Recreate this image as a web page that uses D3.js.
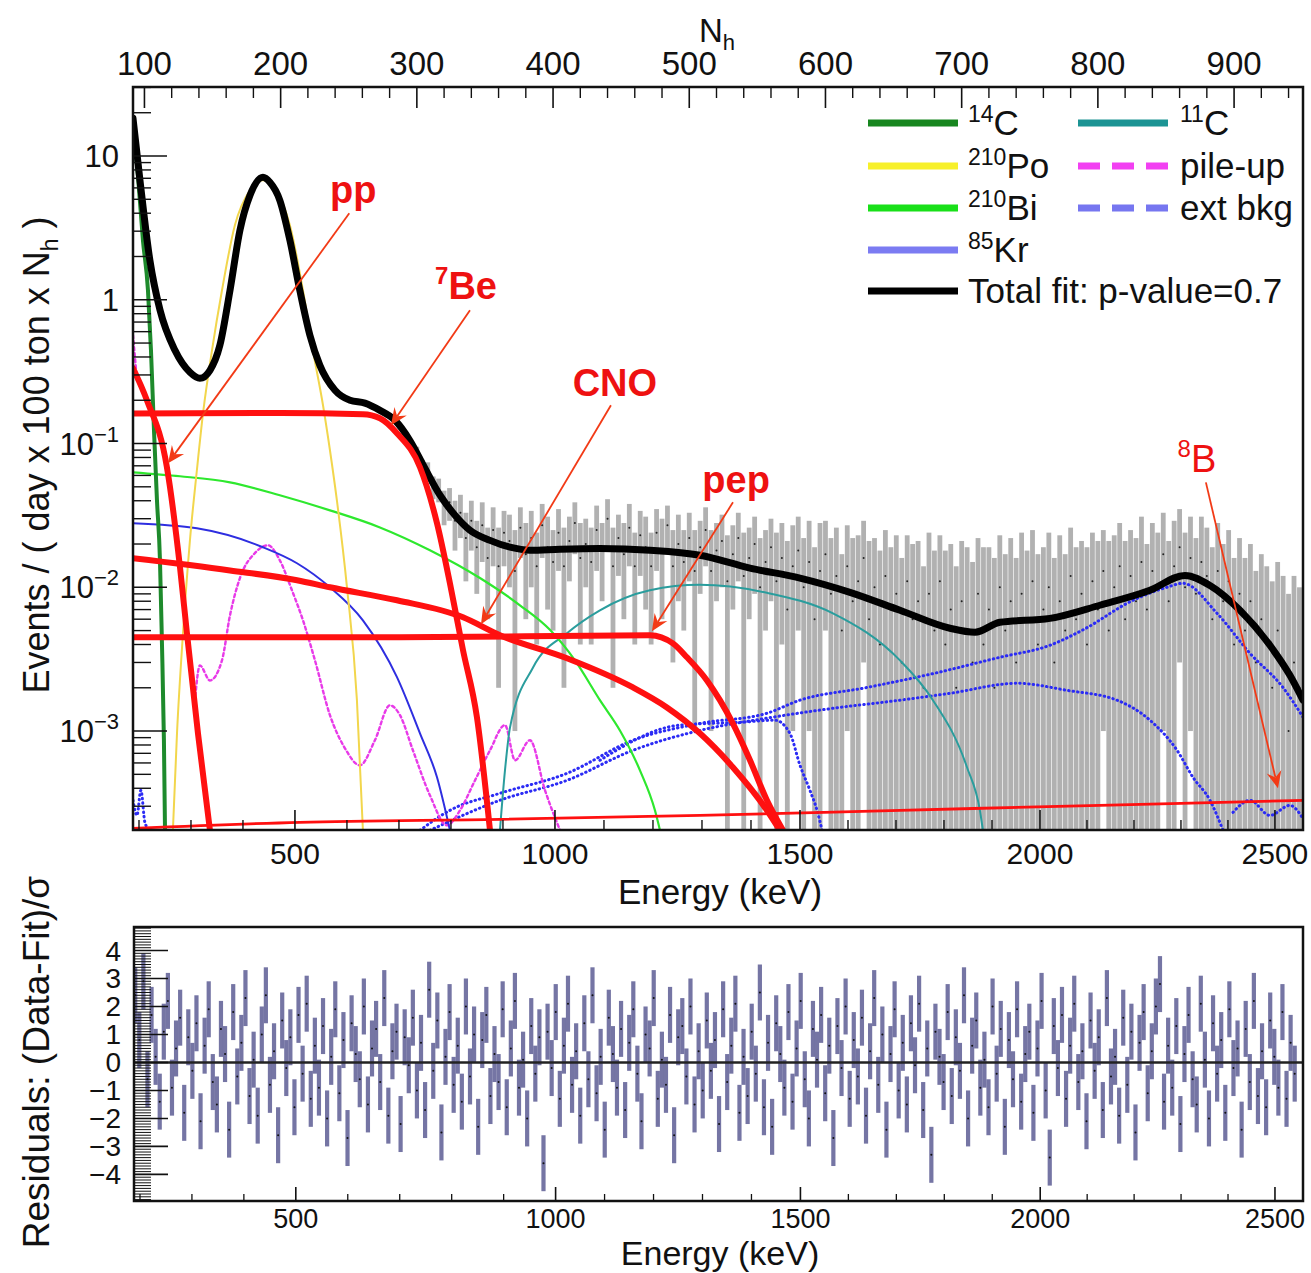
<!DOCTYPE html>
<html>
<head>
<meta charset="utf-8">
<script src="https://cdn.jsdelivr.net/npm/d3@7"></script>
<style>
  body { margin: 0; background: #fff; }
  text { font-family: "Liberation Sans", Arial, Helvetica, sans-serif; fill: #111; }
</style>
</head>
<body>
<svg id="chart" width="1311" height="1273"></svg>
<script>
// ---------------- axis definitions ----------------
const nhDomain = [91.6, 950.6];
const valueDomain = [2.05e-4, 30.2];
const residDomain = [-4.95, 4.84];
const nhMajorTicks = [100, 200, 300, 400, 500, 600, 700, 800, 900];
const energyMajorTicks = [500, 1000, 1500, 2000, 2500];
const energyCalKeV = [200, 500, 1000, 1500, 2000, 2500];
const energyCalNh = [96.0, 210.5, 401.4, 581.3, 757.5, 930.0];
const residTickLabels = [-4, -3, -2, -1, 0, 1, 2, 3, 4];
const decadeTicks = [1e-3, 1e-2, 1e-1, 1, 10];

// ---------------- fitted components: [Nh, events] ----------------
const totalFit = [[91.6,18.3],[96.7,6.8],[104.0,1.88],[111.4,0.85],[122.4,0.445],[133.4,0.313],[140.7,0.284],[148.1,0.323],[155.4,0.483],[162.8,1.16],[170.1,3.04],[177.5,5.33],[187.0,7.11],[192.1,6.57],[199.4,4.92],[206.8,2.59],[214.1,1.16],[221.5,0.566],[228.8,0.350],[239.9,0.235],[250.9,0.200],[261.9,0.191],[272.9,0.170],[283.9,0.145],[294.9,0.105],[305.9,0.0673],[317.0,0.0437],[328.0,0.0317],[339.0,0.0249],[353.7,0.0212],[368.4,0.0190],[383.0,0.0181],[405.1,0.0184],[434.4,0.0186],[471.1,0.0181],[507.8,0.0167],[544.6,0.0136],[581.3,0.0116],[618.0,0.00923],[654.7,0.00692],[691.4,0.00519],[709.8,0.00487],[728.1,0.00571],[764.8,0.00608],[801.5,0.0075],[838.2,0.00953],[863.9,0.0121],[882.3,0.0103],[904.3,0.00692],[926.3,0.00395],[941.0,0.00244],[950.6,0.00164]];
const ppNu = [[91.6,0.334],[101.8,0.200],[116.5,0.0684],[126.1,0.01378],[131.2,0.00479],[139.3,0.000964],[148.1,0.000204]];
const be7Nu = [[91.6,0.162],[200,0.163],[260.4,0.160],[272.9,0.150],[285.4,0.118],[302.3,0.0684],[314.8,0.0279],[324.3,0.01066],[333.9,0.00365],[344.1,0.00125],[353.7,0.000204]];
const cnoNu = [[91.6,0.0159],[162.8,0.0131],[212.0,0.0112],[236.2,0.0100],[285.4,0.00812],[333.9,0.00618],[361.0,0.00464],[410.2,0.00321],[458.7,0.00201],[483.6,0.00146],[507.8,0.000964],[532.0,0.00056],[557.0,0.000281],[566.5,0.000204]];
const pepNu = [[91.6,0.00449],[287.6,0.00449],[471.1,0.00464],[488.0,0.00407],[498.3,0.00326],[513.0,0.00225],[522.5,0.00164],[532.0,0.00113],[544.6,0.000626],[557.0,0.00033],[568.8,0.000204]];
const b8Nu = [[91.6,0.00021],[214.1,0.000232],[361.0,0.000243],[507.8,0.000259],[654.7,0.000281],[801.5,0.000304],[950.6,0.00033]];
const c14 = [[91.6,16.4],[95.2,7.35],[98.9,2.59],[102.6,1.16],[104.8,0.445],[107.0,0.124],[109.2,0.0402],[111.4,0.0154],[112.8,0.00428],[114.3,0.000863],[115.1,0.000204]];
const po210 = [[120.9,0.000204],[123.9,0.000964],[128.3,0.00479],[133.4,0.0212],[138.5,0.0652],[143.0,0.162],[149.6,0.445],[156.9,1.16],[166.4,3.30],[177.5,5.78],[187.0,6.78],[196.5,5.78],[206.8,3.30],[216.4,1.16],[223.7,0.445],[231.1,0.1846],[236.2,0.0898],[241.3,0.0402],[248.7,0.00999],[256.0,0.00164],[260.4,0.000204]];
const bi210 = [[91.6,0.0631],[126.1,0.0592],[162.8,0.0537],[199.4,0.0437],[236.2,0.0343],[272.9,0.0261],[309.6,0.0181],[346.3,0.0116],[375.7,0.0075],[397.7,0.00506],[416.1,0.0031],[434.4,0.00164],[449.1,0.00101],[463.8,0.000533],[474.8,0.000281],[478.5,0.000204]];
const kr85 = [[91.6,0.0279],[138.5,0.0257],[187.0,0.0190],[212.0,0.0147],[236.2,0.0100],[260.4,0.00589],[285.4,0.00237],[302.3,0.000964],[314.8,0.000477],[324.3,0.000204]];
const c11 = [[361.0,0.000204],[364.7,0.000533],[368.4,0.00106],[385.3,0.00277],[410.2,0.00479],[434.4,0.00692],[471.1,0.00953],[507.8,0.0104],[557.0,0.00916],[605.5,0.00659],[654.7,0.0031],[678.9,0.00164],[703.9,0.00056],[713.4,0.00028],[715.6,0.000204]];
const pileUpHead = [[91.6,0.566],[93.0,0.40],[94.5,0.275]];
const pileUp = [[137.0,0.0016],[140.7,0.00286],[148.1,0.00225],[156.9,0.0031],[162.8,0.00638],[170.1,0.0116],[181.1,0.0173],[190.7,0.0196],[199.4,0.0154],[208.3,0.00953],[216.4,0.00589],[225.2,0.0031],[236.2,0.00129],[247.2,0.000759],[258.2,0.000578],[269.2,0.000863],[280.2,0.00151],[287.6,0.00129],[297.1,0.000735],[309.6,0.000357],[322.1,0.000221],[331.7,0.000281],[342.7,0.000454],[353.7,0.000735],[364.7,0.0011],[372.1,0.000626],[383.0,0.000863],[394.1,0.000387],[405.1,0.000204]];
const extBkgA = [[302.3,0.000204],[324.3,0.000281],[361.0,0.000369],[410.2,0.000508],[458.7,0.000863],[507.8,0.00113],[557.0,0.00133],[581.3,0.00164],[630.5,0.00201],[679.0,0.00251],[728.1,0.00326],[764.8,0.00395],[789.1,0.00506],[825.8,0.00812],[850.7,0.0100],[862.5,0.01066],[887.5,0.00659],[911.7,0.00347],[935.9,0.00201],[950.6,0.00125]];
const extBkgB = [[309.6,0.000204],[361.0,0.00033],[410.2,0.000454],[458.7,0.000735],[507.8,0.00101],[557.0,0.00123],[605.5,0.00144],[654.7,0.00164],[691.4,0.00183],[740.6,0.00215],[777.3,0.00192],[814.0,0.00164],[838.2,0.00119],[858.1,0.000735],[869.8,0.000477],[882.3,0.00033],[891.9,0.000204]];
const extBkgC = [[434.4,0.000626],[493.1,0.0011],[537.2,0.00115],[562.9,0.00119],[573.9,0.000964],[581.3,0.000578],[588.6,0.000387],[593.8,0.000281],[597.5,0.000204]];
const extBkgEdges = [[[91.6,0.00033],[94.5,0.000259],[97.4,0.000387],[100.4,0.00023],[104.0,0.000204]],
                     [[899.2,0.000272],[911.7,0.00033],[926.3,0.000259],[941.0,0.000304],[950.6,0.000246]]];

// ---------------- measured spectrum (binned) ----------------
const dataStartNh = 300, dataStepNh = 4;
const dataVals = [0.088,0.069,0.066,0.050,0.048,0.037,0.039,0.029,0.033,0.022,
0.029,0.019,0.027,0.016,0.025,0.014,0.024,0.021,0.013,0.026,
0.017,0.022,0.014,0.027,0.019,0.015,0.024,0.014,0.021,0.028,
0.016,0.020,0.015,0.025,0.018,0.030,0.014,0.022,0.017,0.026,
0.014,0.023,0.019,0.014,0.024,0.018,0.027,0.014,0.020,0.015,
0.022,0.013,0.019,0.025,0.013,0.018,0.021,0.011,0.017,0.022,
0.012,0.016,0.020,0.010,0.015,0.019,0.011,0.016,0.007,0.014,
0.018,0.010,0.015,0.006,0.013,0.017,0.009,0.012,0.005,0.014,
0.008,0.011,0.016,0.006,0.010,0.004,0.012,0.007,0.009,0.003,
0.011,0.006,0.008,0.002,0.009,0.005,0.011,0.004,0.007,0.002,
0.008,0.005,0.003,0.009,0.004,0.007,0.002,0.010,0.005,0.008,
0.003,0.009,0.006,0.011,0.004,0.007,0.010,0.003,0.008,0.005,
0.012,0.006,0.009,0.004,0.011,0.007,0.013,0.005,0.010,0.014,
0.006,0.012,0.008,0.015,0.007,0.013,0.010,0.017,0.008,0.014,
0.019,0.010,0.016,0.009,0.015,0.012,0.006,0.013,0.008,0.011,
0.004,0.009,0.005,0.008,0.003,0.006,0.004,0.002,0.005,0.003,
0.001,0.003,0.002];
const dataErrs = [0.007,0.008,0.008,0.009,0.009,0.010,0.010,0.011,0.011,0.011,
0.011,0.010,0.012,0.010,0.011,0.012,0.010,0.011,0.012,0.010,
0.011,0.012,0.010,0.011,0.012,0.010,0.011,0.012,0.010,0.011,
0.012,0.010,0.011,0.012,0.010,0.011,0.012,0.010,0.011,0.012,
0.010,0.011,0.012,0.010,0.011,0.012,0.010,0.011,0.012,0.010,
0.011,0.012,0.010,0.011,0.012,0.010,0.011,0.012,0.010,0.011,
0.012,0.010,0.011,0.012,0.010,0.011,0.013,0.012,0.014,0.013,
0.013,0.012,0.014,0.013,0.015,0.012,0.013,0.014,0.012,0.013,
0.014,0.012,0.013,0.015,0.012,0.014,0.013,0.012,0.014,0.013,
0.012,0.014,0.013,0.012,0.015,0.013,0.012,0.014,0.013,0.012,
0.013,0.014,0.012,0.013,0.015,0.012,0.014,0.013,0.012,0.014,
0.013,0.015,0.012,0.014,0.013,0.012,0.014,0.013,0.015,0.012,
0.014,0.013,0.012,0.015,0.013,0.014,0.012,0.016,0.013,0.014,
0.015,0.013,0.014,0.016,0.013,0.015,0.014,0.016,0.013,0.015,
0.016,0.014,0.015,0.013,0.016,0.014,0.013,0.015,0.012,0.014,
0.012,0.013,0.011,0.012,0.010,0.011,0.010,0.009,0.010,0.009,
0.008,0.009,0.008];

// ---------------- residuals (Data-Fit)/sigma ----------------
const residStartNh = 92.5, residStepNh = 3;
const residuals = [2.4,0.8,2.9,-0.6,1.7,0.2,-1.4,1.1,2.2,-0.9,
0.5,1.6,-1.8,0.9,-0.3,1.4,-2.1,0.6,1.9,-0.7,
-1.5,1.2,0.3,-2.4,1.8,-0.5,0.7,2.3,-1.2,0.1,
-1.9,1.0,2.4,-0.8,0.4,-2.6,1.5,-0.2,0.9,-1.6,
1.7,-0.4,2.1,-1.3,0.6,-0.9,1.3,-2.0,0.2,1.9,
-1.1,0.8,-2.7,1.4,0.3,-0.6,2.0,-1.5,0.5,1.2,
-0.7,2.3,-1.9,0.4,1.1,-2.2,0.9,-0.1,1.6,-1.0,
0.7,-1.7,2.6,-0.3,1.5,-2.5,0.2,1.8,-0.8,0.6,
-1.4,2.0,-0.5,1.0,-2.3,0.8,1.7,-1.2,0.3,-0.7,
1.9,-1.6,0.5,2.2,-0.9,0.1,-2.0,1.3,-0.4,0.9,
-3.6,1.1,-0.2,1.8,-1.3,0.6,2.1,-0.8,0.4,-1.9,
1.4,-0.6,2.4,-1.1,0.2,-2.4,1.6,0.3,-0.9,1.2,
-1.7,0.7,1.9,-0.4,-2.1,1.0,0.5,2.3,-1.3,0.1,
-0.8,1.7,-2.6,0.9,1.3,-0.5,2.0,-1.5,0.4,-1.0,
1.5,-0.3,0.8,-2.2,1.9,-0.7,0.6,2.1,-1.8,0.2,
-1.2,1.1,-0.4,2.5,-1.6,0.7,-2.3,1.4,0.3,-0.9,
1.8,-1.4,0.5,2.2,-0.6,-2.0,1.2,0.1,1.7,-1.1,
0.6,-2.7,1.3,-0.2,2.0,-1.3,0.8,-0.5,1.6,-1.9,
0.4,2.3,-0.8,1.0,-2.4,0.3,1.9,-1.0,0.7,-1.5,
1.4,-0.1,2.1,-1.7,0.5,-3.3,1.1,0.2,-0.7,1.8,
-1.2,0.9,-0.3,2.4,-2.0,0.6,1.5,-0.9,0.1,-1.6,
2.0,-0.4,1.2,-2.3,0.8,-0.6,1.9,-1.4,0.3,1.1,
-1.8,0.5,2.2,-1.0,-3.4,1.3,-0.2,1.7,-1.3,0.6,
2.1,-0.7,0.4,-2.1,1.5,-0.3,0.9,-1.7,2.3,-0.5,
0.2,-1.9,1.6,-0.8,1.1,-2.5,0.7,1.8,-1.1,0.4,
2.0,2.8,-1.4,0.6,-0.9,1.3,-2.2,0.3,1.7,-0.6,
-1.5,2.1,0.1,-2.0,1.4,-0.4,0.8,-1.8,1.9,-0.2,
0.5,-2.4,1.2,-0.7,2.2,-1.2,0.4,-1.6,1.5,0.2,
-0.9,1.8,-1.3,0.7,-0.4];

// ---------------- annotations: label anchor, arrow start, arrow tip in [Nh, events] ----------------
const annotations = [
  {sup: "", main: "pp", bold: true, label: [253.3, 4.69], from: [250.4, 4.0], to: [117.3, 0.0729]},
  {sup: "7", main: "Be", bold: true, label: [336.1, 1.01], from: [339.0, 0.845], to: [281.0, 0.134]},
  {sup: "", main: "CNO", bold: true, label: [445.4, 0.213], from: [442.5, 0.1846], to: [347.1, 0.00553]},
  {sup: "", main: "pep", bold: true, label: [534.4, 0.0451], from: [532.1, 0.039], to: [472.6, 0.00494]},
  {sup: "8", main: "B", bold: false, label: [872.7, 0.0631], from: [879.3, 0.0537], to: [932.2, 0.0004]}
];

// ---------------- legend entries ----------------
const legendItems = [
  {sup: "14", main: "C", color: "#17861f", dash: null, col: 0, row: 0},
  {sup: "210", main: "Po", color: "#f7f02a", dash: null, col: 0, row: 1},
  {sup: "210", main: "Bi", color: "#19e019", dash: null, col: 0, row: 2},
  {sup: "85", main: "Kr", color: "#7b7bf2", dash: null, col: 0, row: 3},
  {sup: "", main: "Total fit: p-value=0.7", color: "#000000", dash: null, col: 0, row: 4},
  {sup: "11", main: "C", color: "#1c9494", dash: null, col: 1, row: 0},
  {sup: "", main: "pile-up", color: "#f240f2", dash: "22,12", col: 1, row: 1},
  {sup: "", main: "ext bkg", color: "#7676f0", dash: "22,12", col: 1, row: 2}
];

// ================= drawing =================
const svg = d3.select("#chart");
const P = {l: 133, r: 1303, t: 87, b: 830};
const R = {l: 134, r: 1303, t: 927, b: 1201};

const x = d3.scaleLinear().domain(nhDomain).range([P.l, P.r]);
const y = d3.scaleLog().domain(valueDomain).range([P.b, P.t]);
const xr = d3.scaleLinear().domain(nhDomain).range([R.l, R.r]);
const yr = d3.scaleLinear().domain(residDomain).range([R.b, R.t]);
const xE = d3.scaleLinear().domain(energyCalKeV).range(energyCalNh.map(n => x(n)));
const xEr = d3.scaleLinear().domain(energyCalKeV).range(energyCalNh.map(n => xr(n)));

const defs = svg.append("defs");
defs.append("clipPath").attr("id", "plotClip").append("rect")
  .attr("x", P.l).attr("y", P.t).attr("width", P.r - P.l).attr("height", P.b - P.t);
defs.append("clipPath").attr("id", "residClip").append("rect")
  .attr("x", R.l).attr("y", R.t).attr("width", R.r - R.l).attr("height", R.b - R.t);

const plotG = svg.append("g").attr("clip-path", "url(#plotClip)");
const line = d3.line().x(d => x(d[0])).y(d => y(d[1])).curve(d3.curveMonotoneX);

// measured spectrum: grey error boxes with central points
const dataG = plotG.append("g");
dataVals.forEach((v, i) => {
  const nh = dataStartNh + i * dataStepNh;
  const e = dataErrs[i];
  const top = y(v + e);
  const lo = v - e;
  const bot = lo > valueDomain[0] ? y(lo) : P.b;
  dataG.append("rect").attr("x", x(nh) - 2.4).attr("width", 4.8)
    .attr("y", top).attr("height", bot - top)
    .attr("fill", "#7d7d7d").attr("opacity", 0.6);
  if (v > valueDomain[0]) {
    dataG.append("circle").attr("cx", x(nh)).attr("cy", y(v)).attr("r", 1).attr("fill", "#222");
  }
});

function drawCurve(pts, color, width, dash) {
  const p = plotG.append("path").datum(pts).attr("d", line)
    .attr("fill", "none").attr("stroke", color).attr("stroke-width", width)
    .attr("stroke-linejoin", "round").attr("stroke-linecap", "round");
  if (dash) p.attr("stroke-dasharray", dash);
  return p;
}

// background components
[extBkgA, extBkgB, extBkgC].concat(extBkgEdges).forEach(s => drawCurve(s, "#2b2bf5", 3, "0.5,4"));
drawCurve(pileUpHead, "#e83ae8", 2.4, "3,3");
drawCurve(pileUp, "#e83ae8", 2.4, "3,3");
drawCurve(c11, "#2a9d9d", 2);
drawCurve(kr85, "#2e2ee0", 2);
drawCurve(bi210, "#2ee82e", 2.2);
drawCurve(po210, "#f2d64c", 2);
drawCurve(c14, "#1e8a2c", 4);
// total fit
drawCurve(totalFit, "#000000", 7);
// neutrino components
drawCurve(b8Nu, "#ff1010", 2.8);
drawCurve(cnoNu, "#ff1010", 6);
drawCurve(pepNu, "#ff1010", 6);
drawCurve(be7Nu, "#ff1010", 6);
drawCurve(ppNu, "#ff1010", 6);

// ----- main frame and axes -----
const axG = svg.append("g").attr("stroke", "#111");
axG.append("rect").attr("x", P.l).attr("y", P.t).attr("width", P.r - P.l).attr("height", P.b - P.t)
  .attr("fill", "none").attr("stroke-width", 2.5);

// top axis (Nh)
const nhMinor = d3.range(100, 950, 20).filter(v => v % 100 !== 0);
nhMajorTicks.forEach(v => axG.append("line").attr("x1", x(v)).attr("x2", x(v)).attr("y1", P.t).attr("y2", P.t + 21).attr("stroke-width", 1.6));
nhMinor.forEach(v => axG.append("line").attr("x1", x(v)).attr("x2", x(v)).attr("y1", P.t).attr("y2", P.t + 11).attr("stroke-width", 1.4));
svg.append("g").selectAll("text").data(nhMajorTicks).join("text")
  .attr("x", d => x(d)).attr("y", 75).attr("text-anchor", "middle")
  .attr("font-size", 33).text(d => d);
const nhTitle = svg.append("text").attr("x", 699).attr("y", 42).attr("font-size", 33);
nhTitle.append("tspan").text("N");
nhTitle.append("tspan").attr("font-size", 22).attr("dy", 8).text("h");

// bottom axis (energy)
const eMinor = d3.range(200, 2600, 100).filter(v => v % 500 !== 0);
energyMajorTicks.forEach(v => axG.append("line").attr("x1", xE(v)).attr("x2", xE(v)).attr("y1", P.b).attr("y2", P.b - 20).attr("stroke-width", 1.6));
eMinor.forEach(v => axG.append("line").attr("x1", xE(v)).attr("x2", xE(v)).attr("y1", P.b).attr("y2", P.b - 10).attr("stroke-width", 1.4));
svg.append("g").selectAll("text").data(energyMajorTicks).join("text")
  .attr("x", d => xE(d)).attr("y", 864).attr("text-anchor", "middle")
  .attr("font-size", 30).text(d => d);
svg.append("text").attr("x", 720).attr("y", 904).attr("text-anchor", "middle")
  .attr("font-size", 35).text("Energy (keV)");

// left log axis
const logMinor = [];
for (let d = -4; d <= 1; d++) for (let k = 2; k <= 9; k++) {
  const v = k * Math.pow(10, d);
  if (v > valueDomain[0] && v < valueDomain[1]) logMinor.push(v);
}
decadeTicks.forEach(v => axG.append("line").attr("x1", P.l).attr("x2", P.l + 34).attr("y1", y(v)).attr("y2", y(v)).attr("stroke-width", 1.6));
logMinor.forEach(v => axG.append("line").attr("x1", P.l).attr("x2", P.l + 18).attr("y1", y(v)).attr("y2", y(v)).attr("stroke-width", 1.4));
decadeTicks.forEach(v => {
  const ex = Math.round(Math.log10(v));
  const t = svg.append("text").attr("y", y(v) + 11).attr("font-size", 31).attr("text-anchor", "end");
  if (ex >= 0) {
    t.attr("x", 119).text(v);
  } else {
    t.attr("x", 119);
    t.append("tspan").text("10");
    t.append("tspan").attr("font-size", 22).attr("dy", -13).text("\u2212" + (-ex));
  }
});
const yTitle = svg.append("text").attr("transform", "translate(49,455) rotate(-90)")
  .attr("text-anchor", "middle").attr("font-size", 36);
yTitle.append("tspan").text("Events / ( day x 100 ton x N");
yTitle.append("tspan").attr("font-size", 23).attr("dy", 9).text("h");
yTitle.append("tspan").attr("dy", -9).text(" )");

// ----- legend -----
const legCols = [{x1: 868, x2: 958, tx: 968}, {x1: 1078, x2: 1168, tx: 1180}];
const legRows = [123, 166, 208, 250, 291];
const legG = svg.append("g");
legendItems.forEach(it => {
  const c = legCols[it.col], ry = legRows[it.row];
  const ln = legG.append("line").attr("x1", c.x1).attr("x2", c.x2).attr("y1", ry).attr("y2", ry)
    .attr("stroke", it.color).attr("stroke-width", 7);
  if (it.dash) ln.attr("stroke-dasharray", it.dash);
  const t = legG.append("text").attr("x", c.tx).attr("y", ry + 12).attr("font-size", 35);
  if (it.sup) {
    t.append("tspan").attr("font-size", 23).attr("dy", -13).text(it.sup);
    t.append("tspan").attr("dy", 13).text(it.main);
  } else {
    t.text(it.main);
  }
});

// ----- annotations -----
const annG = svg.append("g");
function arrow(from, to) {
  const x1 = x(from[0]), y1 = y(from[1]), x2 = x(to[0]), y2 = y(to[1]);
  const a = Math.atan2(y2 - y1, x2 - x1);
  const L = 17, Wd = 7.5, notch = 11;
  const bx = x2 - notch * Math.cos(a), by = y2 - notch * Math.sin(a);
  annG.append("line").attr("x1", x1).attr("y1", y1).attr("x2", bx).attr("y2", by)
    .attr("stroke", "#f23a16").attr("stroke-width", 1.8);
  const p1 = [x2 - L * Math.cos(a) + Wd * Math.sin(a), y2 - L * Math.sin(a) - Wd * Math.cos(a)];
  const p2 = [x2 - L * Math.cos(a) - Wd * Math.sin(a), y2 - L * Math.sin(a) + Wd * Math.cos(a)];
  annG.append("path").attr("d", `M${x2},${y2}L${p1[0]},${p1[1]}L${bx},${by}L${p2[0]},${p2[1]}Z`)
    .attr("fill", "#f23a16");
}
annotations.forEach(a => {
  const t = annG.append("text").attr("x", x(a.label[0])).attr("y", y(a.label[1]))
    .attr("text-anchor", "middle").attr("font-size", 38)
    .attr("font-weight", a.bold ? "bold" : "normal").style("fill", "#ee1111");
  if (a.sup) {
    t.append("tspan").attr("font-size", 24).attr("dy", -15).text(a.sup);
    t.append("tspan").attr("dy", 15).text(a.main);
  } else {
    t.text(a.main);
  }
  arrow(a.from, a.to);
});

// ================= residual panel =================
const resG = svg.append("g").attr("clip-path", "url(#residClip)");
residuals.forEach((r, i) => {
  const nh = residStartNh + i * residStepNh;
  resG.append("rect").attr("x", xr(nh) - 2.1).attr("width", 4.2)
    .attr("y", yr(r + 1)).attr("height", yr(r - 1) - yr(r + 1))
    .attr("fill", "#66669a").attr("opacity", 0.9);
});
resG.append("line").attr("x1", R.l).attr("x2", R.r).attr("y1", yr(0)).attr("y2", yr(0))
  .attr("stroke", "#222").attr("stroke-width", 2.5);
residuals.forEach((r, i) => {
  const nh = residStartNh + i * residStepNh;
  resG.append("circle").attr("cx", xr(nh)).attr("cy", yr(r)).attr("r", 1).attr("fill", "#111");
});

const raxG = svg.append("g").attr("stroke", "#111");
raxG.append("rect").attr("x", R.l).attr("y", R.t).attr("width", R.r - R.l).attr("height", R.b - R.t)
  .attr("fill", "none").attr("stroke-width", 2.5);
const residMinor = d3.range(-49, 49).map(v => v / 10).filter(v => v > residDomain[0] && v < residDomain[1]);
residMinor.forEach(v => raxG.append("line").attr("x1", R.l).attr("x2", R.l + 17).attr("y1", yr(v)).attr("y2", yr(v)).attr("stroke-width", 1));
residTickLabels.forEach(v => raxG.append("line").attr("x1", R.l).attr("x2", R.l + 34).attr("y1", yr(v)).attr("y2", yr(v)).attr("stroke-width", 1.6));
svg.append("g").selectAll("text").data(residTickLabels).join("text")
  .attr("x", 121).attr("y", d => yr(d) + 10).attr("text-anchor", "end")
  .attr("font-size", 28).text(d => d < 0 ? "\u2212" + (-d) : d);
energyMajorTicks.forEach(v => raxG.append("line").attr("x1", xEr(v)).attr("x2", xEr(v)).attr("y1", R.b).attr("y2", R.b - 14).attr("stroke-width", 1.6));
eMinor.forEach(v => raxG.append("line").attr("x1", xEr(v)).attr("x2", xEr(v)).attr("y1", R.b).attr("y2", R.b - 7).attr("stroke-width", 1.3));
svg.append("g").selectAll("text").data(energyMajorTicks).join("text")
  .attr("x", d => xEr(d)).attr("y", 1228).attr("text-anchor", "middle")
  .attr("font-size", 27).text(d => d);
svg.append("text").attr("x", 720).attr("y", 1265).attr("text-anchor", "middle")
  .attr("font-size", 34).text("Energy (keV)");
svg.append("text").attr("transform", "translate(49,1062) rotate(-90)")
  .attr("text-anchor", "middle").attr("font-size", 37).text("Residuals: (Data-Fit)/\u03c3");
</script>
</body>
</html>
